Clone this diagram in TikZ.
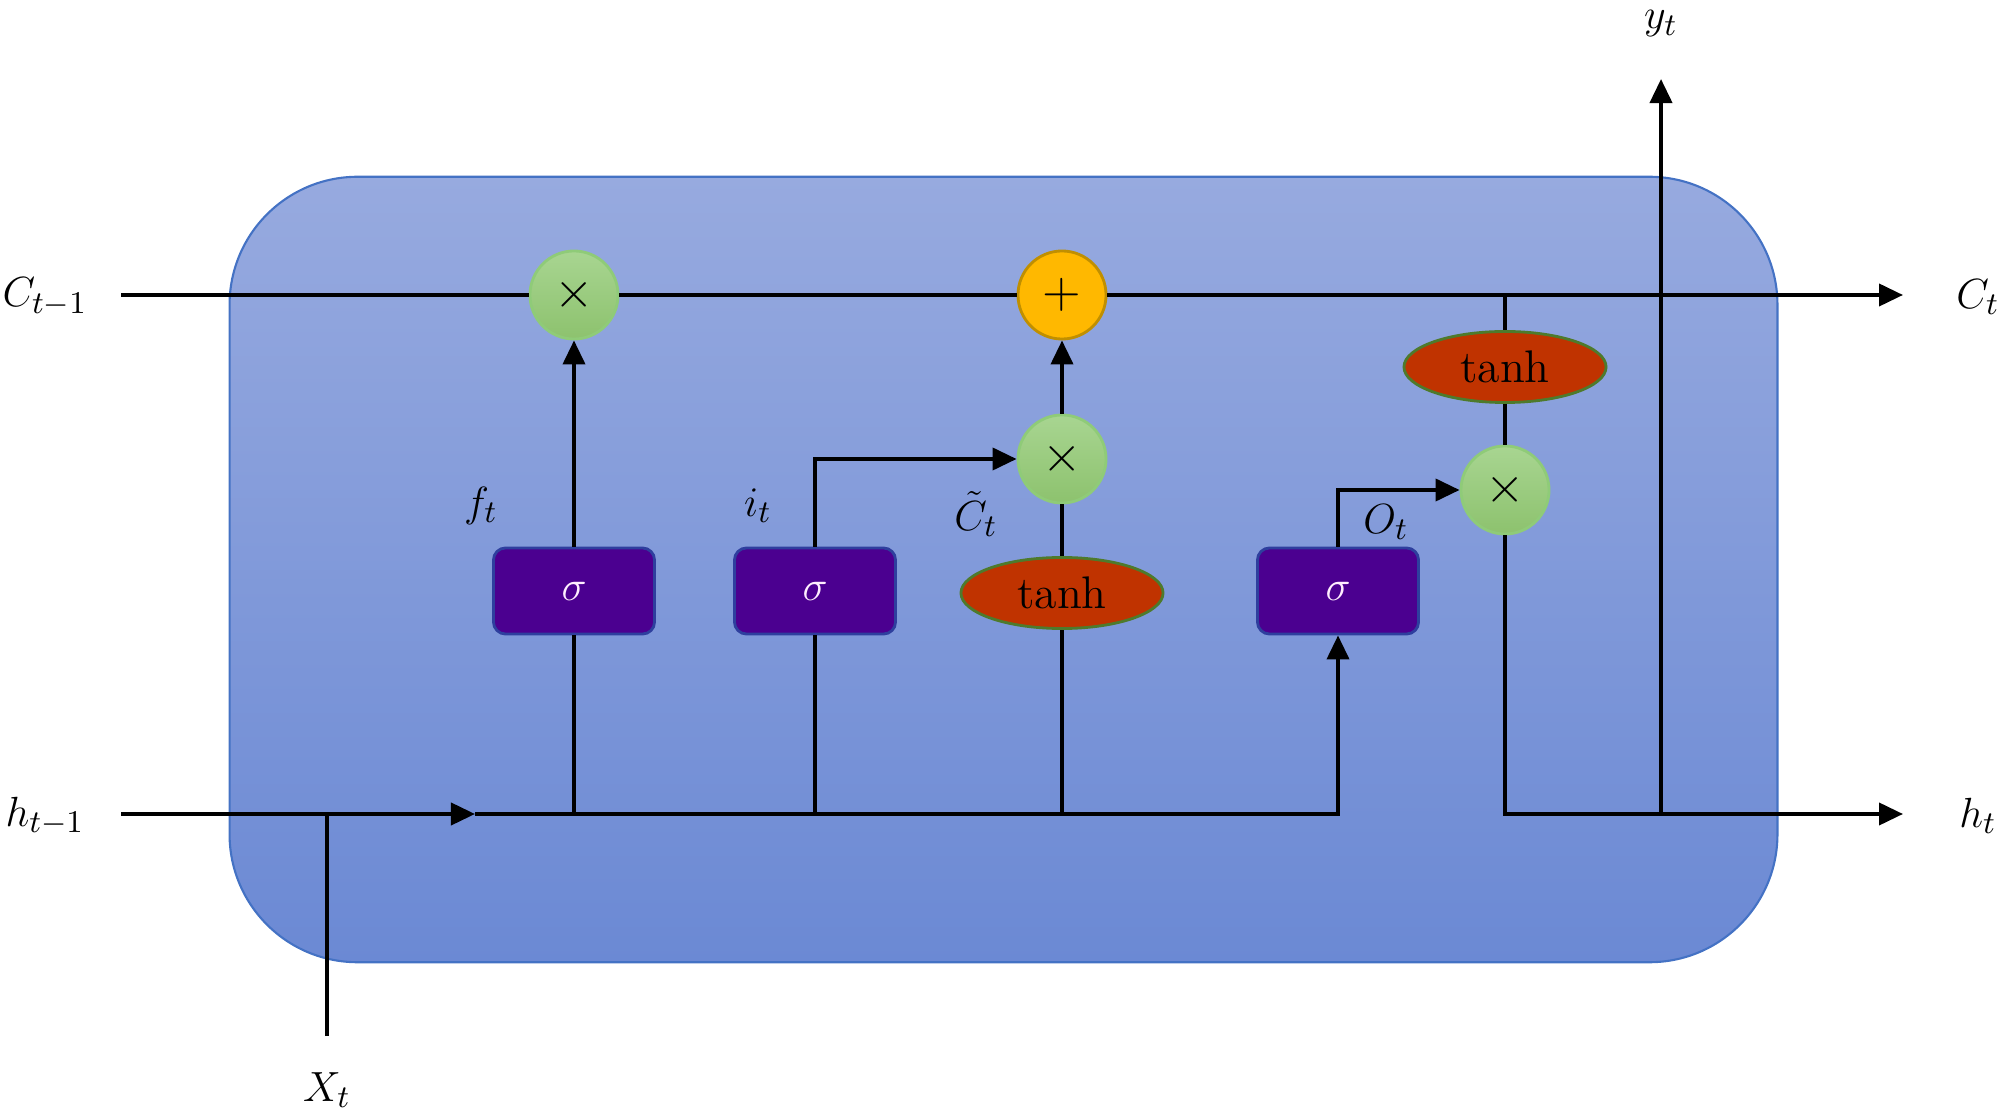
\documentclass[tikz,border=0pt]{standalone}
\usetikzlibrary{arrows.meta,shapes.geometric}
\definecolor{celltop}{HTML}{97AADF}
\definecolor{cellbot}{HTML}{6B89D4}
\definecolor{cellline}{HTML}{4472C4}
\definecolor{sigfill}{HTML}{4B0090}
\definecolor{sigline}{HTML}{2E3F9E}
\definecolor{sigtext}{HTML}{FFEEFF}
\definecolor{tanhfill}{HTML}{C03300}
\definecolor{tanhline}{HTML}{4E7A2C}
\definecolor{gtop}{HTML}{A8D591}
\definecolor{gbot}{HTML}{8DC26E}
\definecolor{gline}{HTML}{8FCB78}
\definecolor{plfill}{HTML}{FFB800}
\definecolor{plline}{HTML}{C08F00}
\begin{document}
\begin{tikzpicture}[x=0.01cm,y=-0.01cm,
  conn/.style={line width=1.1pt,draw=black},
  arr/.style={conn,-{Triangle[length=0.24cm,width=0.22cm]}},
  cellbox/.style={draw=cellline,line width=0.6pt,top color=celltop,bottom color=cellbot,
    rounded corners=1.28cm,minimum width=15.47cm,minimum height=7.85cm,inner sep=0},
  gatebox/.style={draw=sigline,line width=0.8pt,fill=sigfill,rounded corners=0.12cm,
    minimum width=1.61cm,minimum height=0.86cm,inner sep=0,text=sigtext,font=\fontsize{13}{15}\selectfont},
  tanhnode/.style={ellipse,draw=tanhline,line width=0.8pt,fill=tanhfill,minimum width=2.02cm,
    minimum height=0.71cm,inner sep=0,font=\fontsize{13}{15}\selectfont},
  mulnode/.style={circle,draw=gline,line width=0.8pt,top color=gtop,bottom color=gbot,
    minimum size=0.88cm,inner sep=0,font=\fontsize{14}{16}\selectfont},
  addnode/.style={circle,draw=plline,line width=0.8pt,fill=plfill,
    minimum size=0.88cm,inner sep=0,font=\fontsize{14}{16}\selectfont},
  lbl/.style={inner sep=1pt,font=\fontsize{12.5}{15}\selectfont}]
\useasboundingbox (0,0) rectangle (2000,1113);
% cell
\node[cellbox] (cell) at (1003.5,569.5) {};
% operators
\node[mulnode] (fm) at (574,295) {$\times$};
\node[addnode] (pl) at (1062,295) {$+$};
\node[mulnode] (im) at (1062,459) {$\times$};
\node[mulnode] (om) at (1505,490) {$\times$};
\node[tanhnode] (tc) at (1062,593) {tanh};
\node[tanhnode] (to) at (1505,367) {tanh};
\node[gatebox] (s1) at (574,591) {$\sigma$};
\node[gatebox] (s2) at (815,591) {$\sigma$};
\node[gatebox] (s3) at (1338,591) {$\sigma$};
% labels
\node[lbl] (lcp) at (45,297) {$C_{t-1}$};
\node[lbl] (lcn) at (1978,297) {$C_t$};
\node[lbl] (lhp) at (45,816) {$h_{t-1}$};
\node[lbl] (lhn) at (1978,816) {$h_t$};
\node[lbl] (lx) at (327,1090) {$X_t$};
\node[lbl] (ly) at (1661,24) {$y_t$};
\node[lbl] (lf) at (481,506) {$f_t$};
\node[lbl] (li) at (758,506) {$i_t$};
\node[lbl] (lc) at (976,514) {$\tilde{C}_t$};
\node[lbl] (lo) at (1386,522) {$O_t$};
% coordinates
\coordinate (cs) at (121,295);
\coordinate (ce) at (1903,295);
\coordinate (hs) at (121,814);
\coordinate (ha) at (475,814);
\coordinate (hj) at (1338,814);
\coordinate (xs) at (327,1036);
\coordinate (xj) at (327,814);
\coordinate (hf) at (574,814);
\coordinate (hi) at (815,814);
\coordinate (hc) at (1062,814);
\coordinate (ct) at (1505,295);
\coordinate (ho) at (1505,814);
\coordinate (he) at (1903,814);
\coordinate (yb) at (1661,814);
\coordinate (ye) at (1661,79);
% cell state line
\draw[conn] (cs) -- (fm.west);
\draw[conn] (fm.east) -- (pl.west);
\draw[arr] (pl.east) -- (ce);
% hidden input line
\draw[arr] (hs) -- (ha);
\draw[arr] (ha) -- (hj) -- (s3.south);
\draw[conn] (xs) -- (xj);
% forget gate
\draw[conn] (hf) -- (s1.south);
\draw[arr] (s1.north) -- (fm.south);
% input gate
\draw[conn] (hi) -- (s2.south);
\draw[arr] (s2.north) |- (im.west);
% candidate
\draw[conn] (hc) -- (tc.south);
\draw[conn] (tc.north) -- (im.south);
\draw[arr] (im.north) -- (pl.south);
% output gate
\draw[arr] (s3.north) |- (om.west);
\draw[conn] (ct) -- (to.north);
\draw[conn] (to.south) -- (om.north);
\draw[arr] (om.south) -- (ho) -- (he);
% output y
\draw[arr] (yb) -- (ye);
\end{tikzpicture}
\end{document}
